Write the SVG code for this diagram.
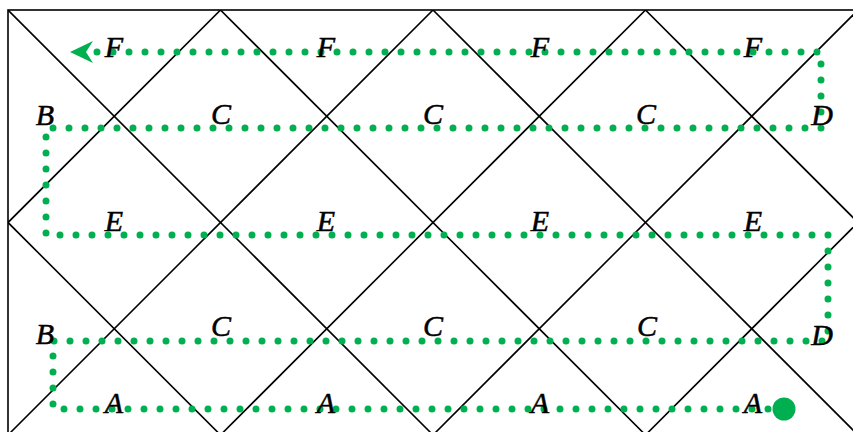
<svg xmlns="http://www.w3.org/2000/svg" width="853" height="432" viewBox="0 0 853 432">
<style>
.grid{stroke:#000;stroke-width:1.6;fill:none}
.lbl{font-family:"Liberation Serif","DejaVu Serif",serif;font-style:italic;font-size:30px;fill:#000;stroke:#000;stroke-width:0.5;text-anchor:middle}
.trail{fill:none;stroke:#00b050;stroke-width:7;stroke-linecap:round;stroke-linejoin:round;stroke-dasharray:0 16}
</style>
<defs>
<clipPath id="box"><rect x="8" y="10" width="850" height="424"/></clipPath>
</defs>
<rect width="853" height="432" fill="#fff"/>
<g id="grid" class="grid" clip-path="url(#box)">
<line x1="-527" y1="-100" x2="173" y2="600"/>
<line x1="-314.5" y1="-100" x2="385.5" y2="600"/>
<line x1="-102" y1="-100" x2="598" y2="600"/>
<line x1="110.5" y1="-100" x2="810.5" y2="600"/>
<line x1="323" y1="-100" x2="1023" y2="600"/>
<line x1="535.5" y1="-100" x2="1235.5" y2="600"/>
<line x1="748" y1="-100" x2="1448" y2="600"/>
<line x1="118" y1="-100" x2="-582" y2="600"/>
<line x1="330.5" y1="-100" x2="-369.5" y2="600"/>
<line x1="543" y1="-100" x2="-157" y2="600"/>
<line x1="755.5" y1="-100" x2="55.5" y2="600"/>
<line x1="968" y1="-100" x2="268" y2="600"/>
<line x1="1180.5" y1="-100" x2="480.5" y2="600"/>
<line x1="1393" y1="-100" x2="693" y2="600"/>
</g>
<rect class="grid" x="8" y="10" width="850" height="424" stroke-width="1.8"/>
<g id="connectors">
<path class="trail" d="M784,409 H53 V341 H828 V235 H46 V128 H821 V52 H96"/>
<polygon points="70,52 93,41 86,52 93,63" fill="#00b050"/>
<circle cx="784" cy="409" r="11.5" fill="#00b050"/>
</g>
<g id="row-F">
<text class="lbl" x="114" y="57">F</text>
<text class="lbl" x="326" y="57">F</text>
<text class="lbl" x="540" y="57">F</text>
<text class="lbl" x="753" y="57">F</text>
</g>
<g id="row-BCD-top">
<text class="lbl" x="45" y="125">B</text>
<text class="lbl" x="221" y="124">C</text>
<text class="lbl" x="433" y="124">C</text>
<text class="lbl" x="646" y="124">C</text>
<text class="lbl" x="822" y="125">D</text>
</g>
<g id="row-E">
<text class="lbl" x="114" y="231">E</text>
<text class="lbl" x="326" y="231">E</text>
<text class="lbl" x="540" y="231">E</text>
<text class="lbl" x="753" y="231">E</text>
</g>
<g id="row-BCD-bottom">
<text class="lbl" x="45" y="344">B</text>
<text class="lbl" x="221" y="336">C</text>
<text class="lbl" x="433" y="336">C</text>
<text class="lbl" x="647" y="336">C</text>
<text class="lbl" x="822" y="345">D</text>
</g>
<g id="row-A">
<text class="lbl" x="114" y="413">A</text>
<text class="lbl" x="326" y="413">A</text>
<text class="lbl" x="540" y="413">A</text>
<text class="lbl" x="753" y="413">A</text>
</g>
</svg>
